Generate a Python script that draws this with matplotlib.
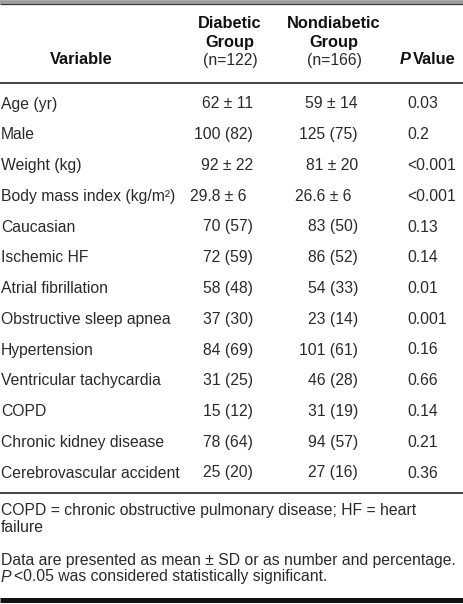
import matplotlib
matplotlib.use("Agg")
import matplotlib.pyplot as plt

FONT = "Liberation Sans"

variables = ["Age (yr)", "Male", "Weight (kg)", "Body mass index (kg/m²)", "Caucasian",
             "Ischemic HF", "Atrial fibrillation", "Obstructive sleep apnea", "Hypertension",
             "Ventricular tachycardia", "COPD", "Chronic kidney disease", "Cerebrovascular accident"]
diabetic = ["62 ± 11", "100 (82)", "92 ± 22", "29.8 ± 6", "70 (57)", "72 (59)", "58 (48)",
            "37 (30)", "84 (69)", "31 (25)", "15 (12)", "78 (64)", "25 (20)"]
nondiabetic = ["59 ± 14", "125 (75)", "81 ± 20", "26.6 ± 6", "83 (50)", "86 (52)", "54 (33)",
               "23 (14)", "101 (61)", "46 (28)", "31 (19)", "94 (57)", "27 (16)"]
p_values = ["0.03", "0.2", "<0.001", "<0.001", "0.13", "0.14", "0.01", "0.001", "0.16",
            "0.66", "0.14", "0.21", "0.36"]
footnote1 = ["COPD = chronic obstructive pulmonary disease; HF = heart", "failure"]
footnote2 = ["Data are presented as mean ± SD or as number and percentage.",
             "<0.05 was considered statistically significant."]

W, H = 464, 604
fig = plt.figure(figsize=(W / 100, H / 100), dpi=100)
ax = fig.add_axes([0, 0, 1, 1])
ax.set_xlim(0, W)
ax.set_ylim(H, 0)
ax.axis("off")

fs = 11.3
txt = dict(fontfamily=FONT, fontsize=fs, va="center", color="#2a2a2a")

# rules
ax.plot([0, W], [1.8, 1.8], color="#9a9a9a", lw=2.6, solid_capstyle="butt")
ax.plot([0, W], [4.0, 4.0], color="#333333", lw=0.9, solid_capstyle="butt")
ax.plot([0, W], [83, 83], color="#111111", lw=1.1, solid_capstyle="butt")
ax.plot([0, W], [493, 493], color="#111111", lw=1.1, solid_capstyle="butt")
ax.plot([0, W], [599.5, 599.5], color="#111111", lw=3.6, solid_capstyle="butt")

# header
hb = dict(txt, fontweight="bold", ha="center", color="#111111", fontsize=11.8)
ax.text(81, 60, "Variable", **hb)
ax.text(230, 23, "Diabetic", **hb)
ax.text(230, 42, "Group", **hb)
ax.text(230, 60, "(n=122)", **dict(txt, ha="center"))
ax.text(334, 23, "Nondiabetic", **hb)
ax.text(334, 42, "Group", **hb)
ax.text(334, 60, "(n=166)", **dict(txt, ha="center"))
ax.text(400, 60, "P", **dict(hb, ha="left", fontstyle="italic"))
ax.text(456, 60, "Value", **dict(hb, ha="right"))

# body
y0, dy = 104, 30.75
for i, (v, d, n, p) in enumerate(zip(variables, diabetic, nondiabetic, p_values)):
    y = y0 + i * dy
    ax.text(1, y, v, ha="left", **txt)
    if len(v) > 22 and "±" in d:
        ax.text(190, y, d, ha="left", **txt)
        ax.text(295, y, n, ha="left", **txt)
    else:
        ax.text(253, y, d, ha="right", **txt)
        ax.text(358, y, n, ha="right", **txt)
    ax.text(407, y, p, ha="left", **txt)

# footnotes
ax.text(1, 511, footnote1[0], ha="left", **txt)
ax.text(1, 528, footnote1[1], ha="left", **txt)
ax.text(1, 560, footnote2[0], ha="left", **txt)
ax.text(1, 577, "P", ha="left", **dict(txt, fontstyle="italic"))
ax.text(14, 577, footnote2[1], ha="left", **txt)

fig.savefig("out.png", dpi=100, facecolor="white")
